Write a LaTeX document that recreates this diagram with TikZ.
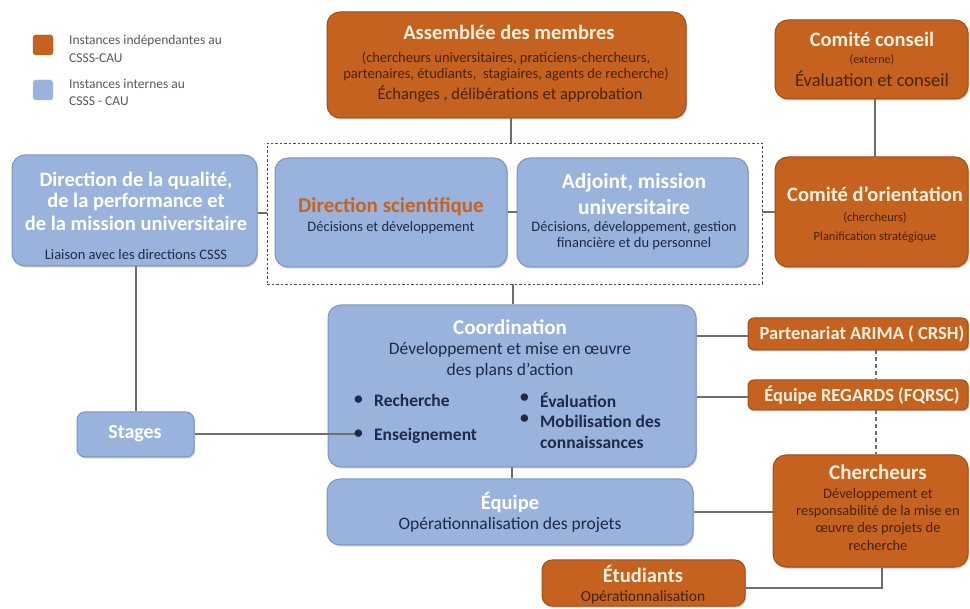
\documentclass[tikz,border=0pt]{standalone}
\usepackage{fontspec}
\setmainfont{Carlito}
\usetikzlibrary{shadows}
\definecolor{org}{HTML}{C6621F}
\definecolor{orgd}{HTML}{A24E17}
\definecolor{blu}{HTML}{99B3DC}
\definecolor{blud}{HTML}{7C95C0}
\definecolor{cream}{HTML}{FDF1DE}
\definecolor{brn}{HTML}{4A2208}
\definecolor{nav}{HTML}{1E2A48}
\definecolor{conn}{HTML}{6E6E6E}
\newcommand\myfs[1]{\fontsize{#1}{#1}\selectfont}
\tikzset{
  box/.style={rounded corners=13pt, line width=1pt, inner sep=0pt,
    drop shadow={shadow xshift=1.2pt, shadow yshift=-1.5pt, fill=black!45, opacity=0.45}},
  obox/.style={box, fill=org, draw=orgd},
  bbox/.style={box, fill=blu, draw=blud},
  tx/.style={inner sep=0pt, align=center},
  otitle/.style={tx, text=cream, font=\myfs{20.5}\bfseries},
  btitle/.style={tx, text=white, font=\myfs{20.5}\bfseries},
  osub/.style={tx, text=brn},
  bsub/.style={tx, text=nav},
  leg/.style={tx, anchor=west, text=black!65, font=\myfs{13.5}},
  cline/.style={draw=conn, line width=1.6pt},
  cdash/.style={draw=conn, line width=1.8pt, dash pattern=on 4pt off 3pt},
  blt/.style={tx, anchor=west, text=nav, font=\myfs{17.5}\bfseries}
}
\begin{document}
\begin{tikzpicture}[x=1pt,y=-1pt]
\fill[white] (0,0) rectangle (970,609);
\useasboundingbox (0,0) rectangle (970,609);

% ---- boxes
\node[obox, minimum width=359pt, minimum height=106pt] (asm) at (506.5,65) {};
\node[obox, minimum width=193pt, minimum height=79pt] (cc) at (871.5,59.5) {};
\node[obox, minimum width=193pt, minimum height=110pt] (co) at (871.5,212) {};
\node[bbox, minimum width=245pt, minimum height=111pt] (dq) at (134.5,210.5) {};
\node[draw=black!70, line width=0.9pt, dash pattern=on 2.5pt off 2pt, minimum width=495pt, minimum height=141pt, inner sep=0pt] (dbox) at (514.5,213.5) {};
\node[bbox, minimum width=232pt, minimum height=109pt] (ds) at (391,212.5) {};
\node[bbox, minimum width=231pt, minimum height=109pt] (adj) at (632.5,212.5) {};
\node[bbox, minimum width=368pt, minimum height=162pt] (coord) at (512,386) {};
\node[obox, rounded corners=6pt, minimum width=220pt, minimum height=32pt] (arima) at (858,334) {};
\node[obox, rounded corners=6pt, minimum width=220pt, minimum height=30pt] (reg) at (858,395) {};
\node[bbox, rounded corners=8pt, minimum width=117pt, minimum height=45pt] (stg) at (135.5,434.5) {};
\node[bbox, minimum width=366pt, minimum height=66pt] (eq) at (510,512) {};
\node[obox, minimum width=195pt, minimum height=112pt] (ch) at (870.5,511) {};
\node[obox, rounded corners=10pt, minimum width=203pt, minimum height=46pt] (et) at (643.5,583) {};

% ---- connectors
\coordinate (ensb) at (356,434);
\draw[cline] (asm.south -| 511,0) -- (511,143);
\draw[cline] (cc.south -| 875,0) -- (875,157);
\draw[cline] (dq.east |- 0,213) -- (dbox.west |- 0,213);
\draw[cline] (ds.east |- 0,212) -- (adj.west |- 0,212);
\draw[cline] (dbox.east |- 0,212) -- (co.west |- 0,212);
\draw[cline] (dbox.south -| 513,0) -- (coord.north -| 513,0);
\draw[cline] (dq.south -| 136,0) -- (stg.north -| 136,0);
\draw[cline] (stg.east |- ensb) -- (ensb);
\draw[cline] (coord.east |- 0,336) -- (arima.west |- 0,336);
\draw[cline] (coord.east |- 0,397) -- (reg.west |- 0,397);
\draw[cdash] (arima.south -| 876,0) -- (reg.north -| 876,0);
\draw[cdash] (reg.south -| 876,0) -- (ch.north -| 876,0);
\draw[cline] (coord.south -| 512,0) -- (eq.north -| 512,0);
\draw[cline] (eq.east |- 0,512) -- (ch.west |- 0,512);
\draw[cline] (ch.south -| 882,0) -- (882,588) -- (et.east |- 0,588);

% ---- legend
\node[fill=org, draw=orgd, rounded corners=3pt, minimum size=20pt, inner sep=0pt] (lo) at (43,45) {};
\node[fill=blu, draw=blud!60, rounded corners=3pt, minimum size=20pt, inner sep=0pt] (lb) at (43,90) {};
\node[leg] (l1) at (69,41) {Instances indépendantes au};
\node[leg] (l2) at (69,58) {CSSS-CAU};
\node[leg] (l3) at (69,84) {Instances internes au};
\node[leg] (l4) at (69,101) {CSSS - CAU};

% ---- Assemblée
\node[otitle] (a1) at (509,32) {Assemblée des membres};
\node[osub, font=\myfs{14.5}] (a2) at (506,58) {(chercheurs universitaires, praticiens-chercheurs,};
\node[osub, font=\myfs{14.5}] (a3) at (506,74) {partenaires, étudiants,\ \ stagiaires, agents de recherche)};
\node[osub, font=\myfs{16.5}] (a4) at (510,94) {Échanges , délibérations et approbation};

% ---- Comité conseil
\node[otitle] (c1) at (872,39) {Comité conseil};
\node[osub, font=\myfs{12}] (c2) at (872,60) {(externe)};
\node[osub, font=\myfs{18.5}] (c3) at (872,79) {Évaluation et conseil};

% ---- Comité d'orientation
\node[otitle] (o1) at (875,194) {Comité d’orientation};
\node[osub, font=\myfs{12.5}] (o2) at (875,218) {(chercheurs)};
\node[osub, font=\myfs{12.5}] (o3) at (875,237) {Planification stratégique};

% ---- Direction qualité
\node[btitle] (q1) at (136,181) {Direction de la qualité,};
\node[btitle] (q2) at (136,202) {de la performance et};
\node[btitle] (q3) at (136,223) {de la mission universitaire};
\node[bsub, font=\myfs{14.5}] (q4) at (136,255) {Liaison avec les directions CSSS};

% ---- Direction scientifique
\node[tx, text=org, font=\myfs{21}\bfseries] (s1) at (391,207) {Direction scientifique};
\node[bsub, font=\myfs{14.5}] (s2) at (391,228) {Décisions et développement};

% ---- Adjoint
\node[btitle, font=\myfs{21.5}\bfseries] (j1) at (634,183) {Adjoint, mission};
\node[btitle, font=\myfs{21.5}\bfseries] (j2) at (634,207) {universitaire};
\node[bsub, font=\myfs{14.5}] (j3) at (634,228) {Décisions, développement, gestion};
\node[bsub, font=\myfs{14.5}] (j4) at (634,244) {financière et du personnel};

% ---- Coordination
\node[btitle, font=\myfs{21}\bfseries] (k1) at (510,327) {Coordination};
\node[bsub, font=\myfs{17.5}] (k2) at (510,350) {Développement et mise en œuvre};
\node[bsub, font=\myfs{17.5}] (k3) at (510,371) {des plans d’action};
\node[blt] (b1) at (354,400) {•};
\node[blt] (k4) at (374,400) {Recherche};
\node[blt] (b2) at (354,434) {•};
\node[blt] (k5) at (374,436) {Enseignement};
\node[blt] (b3) at (520,398) {•};
\node[blt] (k6) at (540,400) {Évaluation};
\node[blt] (b4) at (520,419) {•};
\node[blt] (k7) at (540,421) {Mobilisation des};
\node[blt] (k8) at (540,442) {connaissances};

% ---- ARIMA / REGARDS
\node[otitle, font=\myfs{18.5}\bfseries] (r1) at (862,334) {Partenariat ARIMA ( CRSH)};
\node[otitle, font=\myfs{18.5}\bfseries] (r2) at (862,395) {Équipe REGARDS (FQRSC)};

% ---- Stages
\node[btitle, font=\myfs{20}\bfseries] (g1) at (135,434) {Stages};

% ---- Équipe
\node[btitle] (e1) at (510,503) {Équipe};
\node[bsub, font=\myfs{17.5}] (e2) at (510,525) {Opérationnalisation des projets};

% ---- Chercheurs
\node[otitle, font=\myfs{21}\bfseries] (h1) at (878,472) {Chercheurs};
\node[osub, font=\myfs{14.5}] (h2) at (878,495) {Développement et};
\node[osub, font=\myfs{14.5}] (h3) at (878,512) {responsabilité de la mise en};
\node[osub, font=\myfs{14.5}] (h4) at (878,529) {œuvre des projets de};
\node[osub, font=\myfs{14.5}] (h5) at (878,546) {recherche};

% ---- Étudiants
\node[otitle] (u1) at (643,574) {Étudiants};
\node[osub, font=\myfs{15.5}] (u2) at (643,597) {Opérationnalisation};
\end{tikzpicture}
\end{document}
